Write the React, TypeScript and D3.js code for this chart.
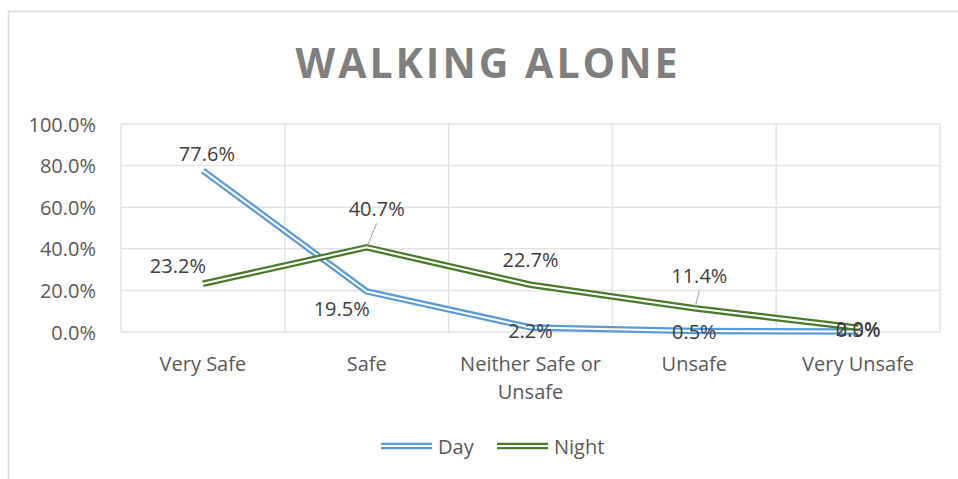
import * as d3 from "d3";

const categories = ["Very Safe", "Safe", "Neither Safe or\nUnsafe", "Unsafe", "Very Unsafe"];
const dayValues = [0.776, 0.195, 0.022, 0.005, 0.003];
const nightValues = [0.232, 0.407, 0.227, 0.114, 0.02];
const yTicks = [0, 0.2, 0.4, 0.6, 0.8, 1.0];

// label placement relative to each point (dx, dy, leader line?)
const dayLabelPos = [
  [4, -17, false],
  [-25, 17, false],
  [0, 3, false],
  [0, 1, false],
  [0, -2, false],
];
const nightLabelPos = [
  [-25, -18, false],
  [10, -39, true],
  [0, -25, false],
  [5, -33, true],
  [0, 1, false],
];

const W = 958;
const H = 479;
const FONT = "'Open Sans', sans-serif";

const series = [
  { name: "Day", values: dayValues, color: "#5b9bd5", labels: dayLabelPos },
  { name: "Night", values: nightValues, color: "#4b7a2d", labels: nightLabelPos },
];

export default function App() {
  const plot = { left: 121, right: 940, top: 124, bottom: 332 };
  const x = d3.scalePoint<string>().domain(categories).range([plot.left, plot.right]).padding(0.5);
  const y = d3.scaleLinear().domain([0, 1]).range([plot.bottom, plot.top]);
  const step = x.step();
  const fmt = d3.format(".1%");

  const line = d3
    .line<number>()
    .x((_, i) => x(categories[i]) as number)
    .y((d) => y(d));

  const bounds = d3.range(categories.length + 1).map((i) => plot.left + i * step);

  return (
    <svg width={W} height={H} style={{ position: "absolute", left: 0, top: 0, background: "#fff" }}>
      <rect x={8.5} y={11.5} width={1000} height={600} fill="#fff" stroke="#d9d9d9" strokeWidth={1.5} />

      <text
        x={488}
        y={62}
        textAnchor="middle"
        dominantBaseline="central"
        fontFamily={FONT}
        fontWeight="bold"
        fontSize={41}
        letterSpacing={3}
        fill="#7f7f7f"
      >
        WALKING ALONE
      </text>

      {/* gridlines */}
      {yTicks.map((t) => (
        <line key={"h" + t} x1={plot.left} x2={plot.right} y1={y(t)} y2={y(t)} stroke="#e3e3e3" strokeWidth={1.5} />
      ))}
      {bounds.map((b) => (
        <line key={"v" + b} x1={b} x2={b} y1={plot.top} y2={plot.bottom} stroke="#e3e3e3" strokeWidth={1.5} />
      ))}

      {/* y axis labels */}
      {yTicks.map((t) => (
        <text
          key={"yt" + t}
          x={96}
          y={y(t)}
          textAnchor="end"
          dominantBaseline="central"
          fontFamily={FONT}
          fontSize={20}
          fill="#595959"
        >
          {fmt(t)}
        </text>
      ))}

      {/* x axis labels */}
      {categories.map((c) => (
        <text key={"xc" + c} textAnchor="middle" fontFamily={FONT} fontSize={20} fill="#595959">
          {c.split("\n").map((part, j) => (
            <tspan key={j} x={x(c)} y={363 + j * 28} dominantBaseline="central">
              {part}
            </tspan>
          ))}
        </text>
      ))}

      {/* lines */}
      {series.map((s) => (
        <g key={s.name}>
          <path d={line(s.values) ?? ""} fill="none" stroke={s.color} strokeWidth={6.5} strokeLinejoin="round" />
          <path d={line(s.values) ?? ""} fill="none" stroke="#fff" strokeWidth={2} strokeLinejoin="round" />
        </g>
      ))}

      {/* data labels */}
      {series.map((s) =>
        s.values.map((v, i) => {
          const px = x(categories[i]) as number;
          const py = y(v);
          const [dx, dy, leader] = s.labels[i] as [number, number, boolean];
          return (
            <g key={s.name + i}>
              {leader && (
                <line x1={px + dx} y1={py + dy + 15} x2={px + 1} y2={py - 2} stroke="#a6a6a6" strokeWidth={1} />
              )}
              <text
                x={px + dx}
                y={py + dy}
                textAnchor="middle"
                dominantBaseline="central"
                fontFamily={FONT}
                fontSize={20}
                fill="#404040"
              >
                {fmt(v)}
              </text>
            </g>
          );
        })
      )}

      {/* legend */}
      {series.map((s, i) => {
        const lx = i === 0 ? 381 : 497;
        return (
          <g key={"lg" + s.name}>
            <line x1={lx} x2={lx + 51} y1={446} y2={446} stroke={s.color} strokeWidth={6.5} />
            <line x1={lx} x2={lx + 51} y1={446} y2={446} stroke="#fff" strokeWidth={2} />
            <text x={lx + 57} y={446} dominantBaseline="central" fontFamily={FONT} fontSize={20} fill="#595959">
              {s.name}
            </text>
          </g>
        );
      })}
    </svg>
  );
}
